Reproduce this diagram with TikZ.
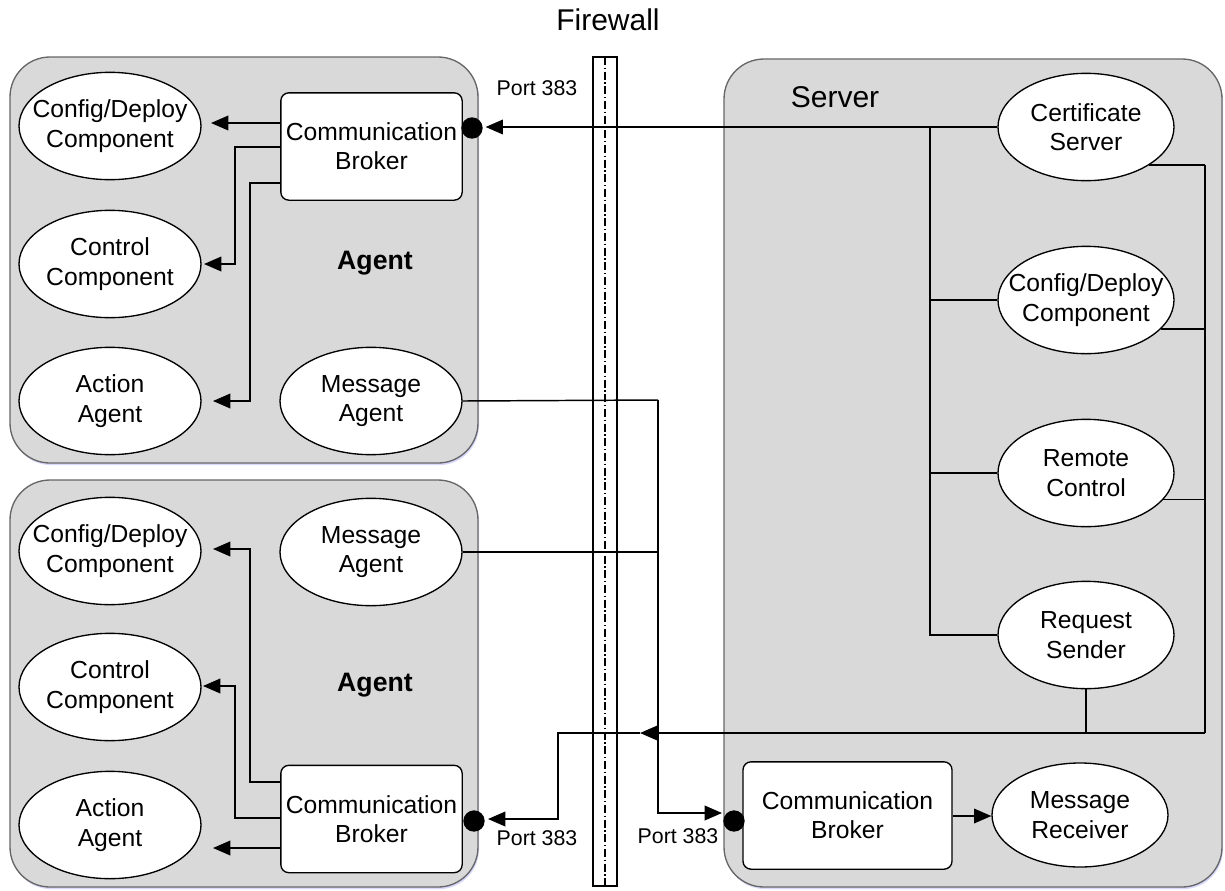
\documentclass[tikz,border=0pt]{standalone}
\usepackage{fontspec}
\setmainfont{Liberation Sans}
\usetikzlibrary{shapes.geometric,arrows.meta,shadows,calc}

\begin{document}
\begin{tikzpicture}[x=0.75pt,y=-0.75pt,
  every node/.style={font=\fontsize{18.5}{22}\selectfont},
  box/.style={draw=black!60, fill=black!15, line width=1pt, rounded corners=30pt,
    drop shadow={shadow xshift=0.8pt, shadow yshift=-1.6pt, fill=blue!25!white, opacity=0.6}},
  oval/.style={ellipse, draw=black, fill=white, line width=1pt,
    minimum width=136.5pt, minimum height=80.5pt, inner sep=0pt},
  inlbl/.style={align=center, font=\fontsize{18.5}{22}\selectfont},
  broker/.style={rectangle, draw=black, fill=white, line width=1pt, rounded corners=6pt,
    minimum width=136pt, minimum height=80.5pt, inner sep=0pt, align=center},
  wire/.style={line width=1.1pt, draw=black},
  arr/.style={wire, -{Triangle[length=13pt,width=11pt]}},
  portdot/.style={circle, fill=black, minimum size=16pt, inner sep=0pt},
  portlbl/.style={font=\fontsize{16}{19}\selectfont},
  title/.style={font=\fontsize{22.5}{26}\selectfont},
  agentlbl/.style={font=\bfseries\fontsize{20}{24}\selectfont},
]
\useasboundingbox (0,0) rectangle (1225,890);

% ---------- containers ----------
\draw[box] (10,57) rectangle (478,463);
\draw[box] (10,480) rectangle (478,887);
\draw[box] (724,59) rectangle (1222,887);

% ---------- firewall ----------
\draw[fill=white, line width=1pt] (593,57) rectangle (617,886);
\draw[line width=0.8pt, dash pattern=on 6pt off 2pt on 1pt off 2pt] (605,57) -- (605,886);
\node[title] (fwlabel) at (608,20) {Firewall};

% ---------- upper agent ----------
\node[oval, label={[inlbl]center:{Config/Deploy\\Component}}] (cfgA) at (110,126) {};
\node[oval, label={[inlbl]center:{Control\\Component}}] (ctlA) at (110,264) {};
\node[oval, label={[inlbl]center:{Action\\Agent}}] (actA) at (110,401) {};
\node[oval, label={[inlbl]center:{Message\\Agent}}] (msgA) at (371,401) {};
\node[broker] (brkA) at (371.5,146.5) {Communication\\Broker};
\node[portdot] (dotA) at (472,128) {};
\node[agentlbl] (agA) at (375,263) {Agent};
\node[portlbl] (portA) at (537,88) {Port 383};

% ---------- lower agent ----------
\node[oval, label={[inlbl]center:{Config/Deploy\\Component}}] (cfgB) at (110,551) {};
\node[oval, label={[inlbl]center:{Control\\Component}}] (ctlB) at (110,687) {};
\node[oval, label={[inlbl]center:{Action\\Agent}}] (actB) at (110,825) {};
\node[oval, label={[inlbl]center:{Message\\Agent}}] (msgB) at (371,552) {};
\node[broker] (brkB) at (371.5,819) {Communication\\Broker};
\node[portdot] (dotB) at (474,821) {};
\node[agentlbl] (agB) at (375,685) {Agent};
\node[portlbl] (portB) at (537,838) {Port 383};

% ---------- server ----------
\node[title] (srvlabel) at (835,97) {Server};
\node[oval, minimum width=132pt, label={[inlbl]center:{Certificate\\Server}}] (cert) at (1086,127) {};
\node[oval, minimum width=132pt, label={[inlbl]center:{Config/Deploy\\Component}}] (cfgS) at (1086,300) {};
\node[oval, minimum width=132pt, label={[inlbl]center:{Remote\\Control}}] (rem) at (1086,473) {};
\node[oval, minimum width=132pt, label={[inlbl]center:{Request\\Sender}}] (req) at (1086,635) {};
\node[oval, minimum width=132pt, minimum height=78pt, label={[inlbl]center:{Message\\Receiver}}] (rcv) at (1080,815) {};
\node[broker, minimum width=156.75pt] (brkS) at (847.5,815.5) {Communication\\Broker};
\node[portdot] (dotS) at (734,821) {};
\node[portlbl] (portS) at (678,836) {Port 383};

% bus coordinates
\coordinate (busL) at (930,127);
\coordinate (busR) at (1205,733);
\coordinate (msgBus) at (658,400);
\coordinate (retL) at (558,733);

% ---------- upper agent wiring ----------
\draw[arr] (brkA.west |- 0,123) -- (211,123);
\draw[arr] (brkA.west |- 0,147) -- (235,147) -- (235,264) -- (204,264);
\draw[arr] (brkA.west |- 0,183) -- (250,183) -- (250,401) -- (213,401);

% ---------- lower agent wiring ----------
\draw[arr] (brkB.west |- 0,782) -- (250,782) -- (250,549) -- (213,549);
\draw[arr] (brkB.west |- 0,818) -- (235,818) -- (235,686) -- (203,686);
\draw[arr] (brkB.west |- 0,848) -- (213,848);

% ---------- server internal bus ----------
\draw[wire] (busL) -- (busL |- req.west) -- (req.west);
\draw[wire] (busL |- cfgS.west) -- (cfgS.west);
\draw[wire] (busL |- rem.west) -- (rem.west);
\draw[wire] (cert.-31) -- (cert.-31 -| busR);
\draw[wire] (cfgS.-21) -- (cfgS.-21 -| busR);
\draw[wire] (rem.-19) -- (rem.-19 -| busR);
\draw[wire] (cert.-31 -| busR) -- (busR);
\draw[wire] (req.south) -- (req.south |- busR);
\draw[arr] (brkS.east |- 0,816) -- (rcv.west |- 0,816);

% ---------- links across the firewall ----------
\draw[arr, shorten >=2pt] (cert.west) -- (dotA.east |- cert.west);
\draw[arr] (busR) -- (640,733);
\draw[arr] (640,733) -- (retL) -- (retL |- 0,819) -- (488,819);
\draw[wire] (msgA.east) -- (msgBus);
\draw[arr] (msgBus) -- (msgBus |- 0,813) -- (722,813);
\draw[wire] (msgB.east) -- (msgB.east -| msgBus);
\end{tikzpicture}
\end{document}
